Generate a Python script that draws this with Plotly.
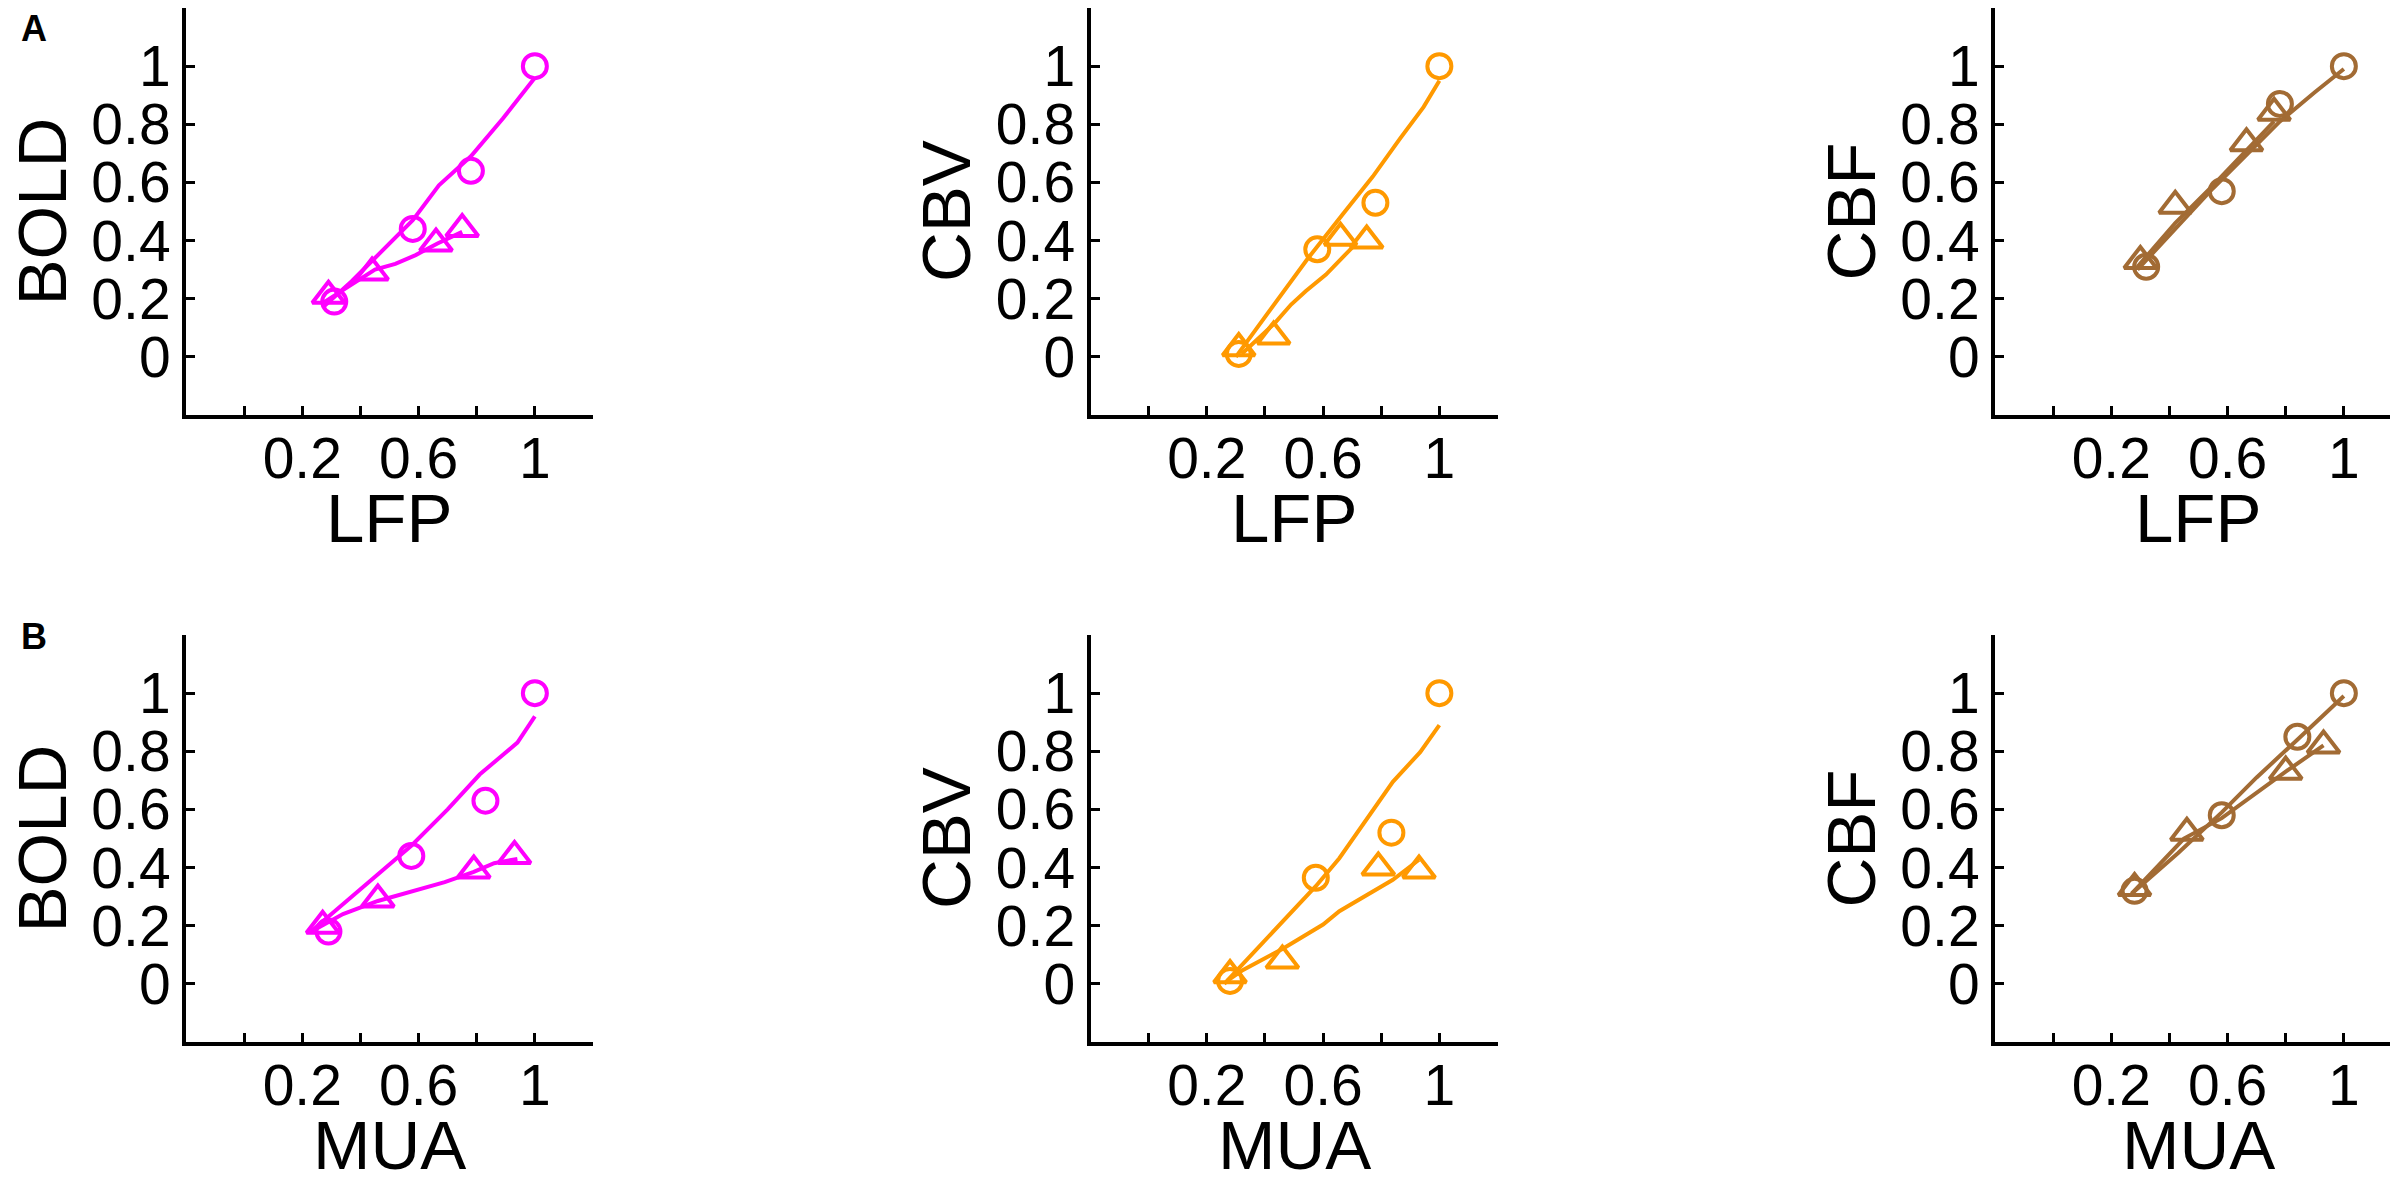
import plotly.graph_objects as go

# ---------------- data ----------------
# Panel A (x = LFP)
a_bold_circ_x = [0.31, 0.58, 0.78, 1.0]
a_bold_circ_y = [0.19, 0.44, 0.64, 1.0]
a_bold_tri_x = [0.29, 0.44, 0.66, 0.75]
a_bold_tri_y = [0.21, 0.29, 0.39, 0.44]
a_bold_cfit_x = [0.27, 0.37, 0.45, 0.58, 0.67, 0.78, 0.89, 0.96, 1.0]
a_bold_cfit_y = [0.17, 0.26, 0.34, 0.47, 0.59, 0.69, 0.82, 0.91, 0.96]
a_bold_tfit_x = [0.27, 0.45, 0.52, 0.59, 0.665, 0.75]
a_bold_tfit_y = [0.185, 0.30, 0.32, 0.35, 0.39, 0.43]

a_cbv_circ_x = [0.31, 0.58, 0.78, 1.0]
a_cbv_circ_y = [0.01, 0.37, 0.53, 1.0]
a_cbv_tri_x = [0.31, 0.43, 0.66, 0.75]
a_cbv_tri_y = [0.03, 0.07, 0.41, 0.40]
a_cbv_cfit_x = [0.30, 0.41, 0.545, 0.667, 0.771, 0.864, 0.946, 1.0]
a_cbv_cfit_y = [0.0, 0.15, 0.335, 0.49, 0.62, 0.75, 0.86, 0.95]
a_cbv_tfit_x = [0.32, 0.434, 0.49, 0.54, 0.61, 0.70]
a_cbv_tfit_y = [0.01, 0.116, 0.18, 0.226, 0.283, 0.376]

a_cbf_circ_x = [0.32, 0.58, 0.78, 1.0]
a_cbf_circ_y = [0.31, 0.57, 0.87, 1.0]
a_cbf_tri_x = [0.30, 0.42, 0.665, 0.76]
a_cbf_tri_y = [0.33, 0.52, 0.735, 0.84]
a_cbf_cfit_x = [0.29, 0.42, 0.55, 0.66, 0.78, 0.90, 1.0]
a_cbf_cfit_y = [0.30, 0.44, 0.58, 0.69, 0.81, 0.91, 0.99]
a_cbf_tfit_x = [0.29, 0.42, 0.55, 0.665, 0.76]
a_cbf_tfit_y = [0.31, 0.46, 0.59, 0.71, 0.81]

# Panel B (x = MUA)
b_bold_circ_x = [0.29, 0.575, 0.83, 1.0]
b_bold_circ_y = [0.18, 0.44, 0.63, 1.0]
b_bold_tri_x = [0.27, 0.46, 0.79, 0.93]
b_bold_tri_y = [0.20, 0.29, 0.39, 0.44]
b_bold_cfit_x = [0.23, 0.42, 0.575, 0.70, 0.81, 0.94, 1.0]
b_bold_cfit_y = [0.18, 0.34, 0.475, 0.60, 0.72, 0.83, 0.92]
b_bold_tfit_x = [0.25, 0.34, 0.46, 0.59, 0.69, 0.79, 0.86, 0.94]
b_bold_tfit_y = [0.19, 0.24, 0.285, 0.32, 0.35, 0.385, 0.415, 0.43]

b_cbv_circ_x = [0.28, 0.575, 0.835, 1.0]
b_cbv_circ_y = [0.01, 0.365, 0.52, 1.0]
b_cbv_tri_x = [0.28, 0.46, 0.79, 0.93]
b_cbv_tri_y = [0.03, 0.08, 0.40, 0.39]
b_cbv_cfit_x = [0.26, 0.47, 0.575, 0.656, 0.75, 0.84, 0.934, 1.0]
b_cbv_cfit_y = [0.0, 0.227, 0.336, 0.432, 0.569, 0.695, 0.797, 0.89]
b_cbv_tfit_x = [0.27, 0.32, 0.46, 0.60, 0.656, 0.75, 0.84, 0.93]
b_cbv_tfit_y = [0.01, 0.045, 0.12, 0.204, 0.25, 0.307, 0.358, 0.427]

b_cbf_circ_x = [0.28, 0.58, 0.84, 1.0]
b_cbf_circ_y = [0.32, 0.58, 0.85, 1.0]
b_cbf_tri_x = [0.28, 0.46, 0.80, 0.93]
b_cbf_tri_y = [0.33, 0.52, 0.73, 0.82]
b_cbf_cfit_x = [0.27, 0.43, 0.58, 0.70, 0.84, 1.0]
b_cbf_cfit_y = [0.31, 0.45, 0.59, 0.71, 0.84, 0.99]
b_cbf_tfit_x = [0.27, 0.45, 0.58, 0.73, 0.80, 0.93]
b_cbf_tfit_y = [0.31, 0.50, 0.57, 0.68, 0.73, 0.82]

x_tick_vals = [0, 0.2, 0.4, 0.6, 0.8, 1.0]
x_tick_text = ["", "0.2", "", "0.6", "", "1"]
y_tick_vals = [0, 0.2, 0.4, 0.6, 0.8, 1.0]
y_tick_text = ["0", "0.2", "0.4", "0.6", "0.8", "1"]

y_titles = ["BOLD", "CBV", "CBF"]
x_titles = ["LFP", "MUA"]
panel_letters = ["A", "B"]

MAGENTA = "#FF00FF"
ORANGE = "#FF9900"
BROWN = "#A26B34"
colors = [MAGENTA, ORANGE, BROWN]

panels = [
    [
        (a_bold_circ_x, a_bold_circ_y, a_bold_tri_x, a_bold_tri_y, a_bold_cfit_x, a_bold_cfit_y, a_bold_tfit_x, a_bold_tfit_y),
        (a_cbv_circ_x, a_cbv_circ_y, a_cbv_tri_x, a_cbv_tri_y, a_cbv_cfit_x, a_cbv_cfit_y, a_cbv_tfit_x, a_cbv_tfit_y),
        (a_cbf_circ_x, a_cbf_circ_y, a_cbf_tri_x, a_cbf_tri_y, a_cbf_cfit_x, a_cbf_cfit_y, a_cbf_tfit_x, a_cbf_tfit_y),
    ],
    [
        (b_bold_circ_x, b_bold_circ_y, b_bold_tri_x, b_bold_tri_y, b_bold_cfit_x, b_bold_cfit_y, b_bold_tfit_x, b_bold_tfit_y),
        (b_cbv_circ_x, b_cbv_circ_y, b_cbv_tri_x, b_cbv_tri_y, b_cbv_cfit_x, b_cbv_cfit_y, b_cbv_tfit_x, b_cbv_tfit_y),
        (b_cbf_circ_x, b_cbf_circ_y, b_cbf_tri_x, b_cbf_tri_y, b_cbf_cfit_x, b_cbf_cfit_y, b_cbf_tfit_x, b_cbf_tfit_y),
    ],
]

# ---------------- layout geometry (pixels) ----------------
W, H = 2398, 1182
col_left = [178, 1082.5, 1987]
row_top = [0, 627]
pw, ph = 407, 407
ytitle_offset = 144
xtitle_offset = 103

FONT = "Liberation Sans, Arial, sans-serif"

fig = go.Figure()
layout = dict(
    width=W, height=H,
    margin=dict(l=0, r=0, t=0, b=0),
    paper_bgcolor="white", plot_bgcolor="white",
    showlegend=False,
    font=dict(family=FONT, color="black"),
)
annotations = []

for r in range(2):
    for c in range(3):
        idx = r * 3 + c + 1
        sfx = "" if idx == 1 else str(idx)
        cx, cy, tx, ty, cfx, cfy, tfx, tfy = panels[r][c]
        col = colors[c]
        xa = "x" + sfx
        ya = "y" + sfx
        fig.add_trace(go.Scatter(x=cfx, y=cfy, mode="lines", line=dict(color=col, width=4),
                                 xaxis=xa, yaxis=ya, hoverinfo="skip"))
        fig.add_trace(go.Scatter(x=tfx, y=tfy, mode="lines", line=dict(color=col, width=4),
                                 xaxis=xa, yaxis=ya, hoverinfo="skip"))
        fig.add_trace(go.Scatter(x=cx, y=cy, mode="markers",
                                 marker=dict(symbol="circle-open", size=24, color=col,
                                             line=dict(color=col, width=4)),
                                 xaxis=xa, yaxis=ya))
        fig.add_trace(go.Scatter(x=tx, y=ty, mode="markers",
                                 marker=dict(symbol="triangle-up-open", size=28, color=col,
                                             line=dict(color=col, width=4)),
                                 xaxis=xa, yaxis=ya))
        x0 = col_left[c] / W
        x1 = (col_left[c] + pw) / W
        y1 = 1 - row_top[r] / H
        y0 = 1 - (row_top[r] + ph) / H
        common = dict(range=[-0.2, 1.2], showgrid=False, zeroline=False, showline=True,
                      linecolor="black", linewidth=4, ticks="inside", ticklen=9,
                      tickwidth=3, tickcolor="black",
                      tickfont=dict(family=FONT, size=57, color="black"))
        layout["xaxis" + sfx] = dict(common, domain=[x0, x1], anchor=ya,
                                     tickvals=x_tick_vals, ticktext=x_tick_text,
                                     ticklabelstandoff=-9)
        layout["yaxis" + sfx] = dict(common, domain=[y0, y1], anchor=xa,
                                     tickvals=y_tick_vals, ticktext=y_tick_text)
        # y title
        annotations.append(dict(text=y_titles[c], xref="paper", yref="paper",
                                x=(col_left[c] - ytitle_offset) / W,
                                y=1 - (row_top[r] + ph / 2) / H,
                                textangle=-90, showarrow=False,
                                xanchor="center", yanchor="middle",
                                font=dict(family=FONT, size=69, color="black")))
        # x title
        annotations.append(dict(text=x_titles[r], xref="paper", yref="paper",
                                x=(col_left[c] + pw / 2) / W,
                                y=1 - (row_top[r] + ph + xtitle_offset) / H,
                                showarrow=False, xanchor="center", yanchor="middle",
                                font=dict(family=FONT, size=69, color="black")))

annotations.append(dict(text="<b>" + panel_letters[0] + "</b>", xref="paper", yref="paper",
                        x=26 / W, y=1 - 20 / H,
                        showarrow=False, xanchor="center", yanchor="middle",
                        font=dict(family=FONT, size=36, color="black")))
annotations.append(dict(text="<b>" + panel_letters[1] + "</b>", xref="paper", yref="paper",
                        x=26 / W, y=1 - 628 / H,
                        showarrow=False, xanchor="center", yanchor="middle",
                        font=dict(family=FONT, size=36, color="black")))

layout["annotations"] = annotations
fig.update_layout(**layout)
fig.write_html("out.html")
